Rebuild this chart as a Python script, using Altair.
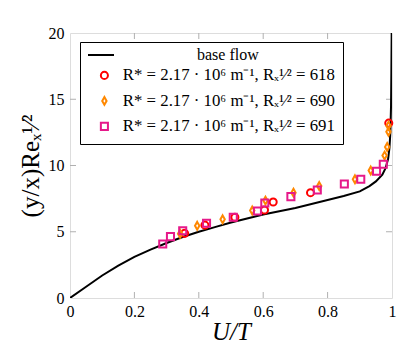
import altair as alt
import pandas as pd

# base flow profile (U/T, eta)
base_u = [0, 0.05, 0.1, 0.15, 0.2, 0.25, 0.3, 0.35, 0.4, 0.45, 0.5, 0.55, 0.6, 0.65,
          0.7, 0.75, 0.8, 0.85, 0.9, 0.93, 0.95, 0.97, 0.98, 0.988, 0.992, 0.995,
          0.997, 0.998, 0.999]
base_eta = [0, 0.85, 1.7, 2.45, 3.1, 3.65, 4.15, 4.6, 5.0, 5.35, 5.7, 6.0, 6.3, 6.55,
            6.8, 7.1, 7.4, 7.7, 8.05, 8.45, 8.8, 9.3, 9.8, 10.5, 11.3, 12.5,
            14.5, 17.0, 20.0]

circ_u = [0.356, 0.419, 0.512, 0.604, 0.631, 0.747, 0.990]
circ_eta = [4.88, 5.5, 6.09, 6.64, 7.24, 7.95, 13.2]

diam_u = [0.342, 0.395, 0.474, 0.566, 0.607, 0.694, 0.774, 0.885, 0.934, 0.977,
          0.985, 0.989, 0.989]
diam_eta = [4.85, 5.45, 5.94, 6.6, 7.35, 7.95, 8.45, 8.96, 9.62, 10.75,
            11.4, 12.55, 13.0]

sq_u = [0.288, 0.312, 0.35, 0.424, 0.507, 0.582, 0.605, 0.686, 0.768, 0.852,
        0.903, 0.952, 0.973]
sq_eta = [4.08, 4.63, 5.08, 5.64, 6.09, 6.57, 7.17, 7.65, 8.15, 8.6,
          8.96, 9.56, 10.1]

labels = [
    "R* = 2.17 · 10⁶ m⁻¹, Rₓ¹⁄² = 618",
    "R* = 2.17 · 10⁶ m⁻¹, Rₓ¹⁄² = 690",
    "R* = 2.17 · 10⁶ m⁻¹, Rₓ¹⁄² = 691",
]
colors = ["#ff0000", "#ff8800", "#e6198a"]
shapes = ["circle", "M0,-1.1L0.62,0L0,1.1L-0.62,0Z", "square"]

x_ticks = [0, 0.2, 0.4, 0.6, 0.8, 1]
y_ticks = [0, 5, 10, 15, 20]

W, H = 322, 265
FONT = "Liberation Serif"

base_df = pd.DataFrame({"U": base_u, "eta": base_eta, "i": range(len(base_u)),
                        "name": "base flow"})
pts = pd.concat([
    pd.DataFrame({"U": circ_u, "eta": circ_eta, "series": labels[0]}),
    pd.DataFrame({"U": diam_u, "eta": diam_eta, "series": labels[1]}),
    pd.DataFrame({"U": sq_u, "eta": sq_eta, "series": labels[2]}),
])

xscale = alt.Scale(domain=[0, 1], nice=False, zero=False)
yscale = alt.Scale(domain=[0, 20], nice=False, zero=False)

xaxis = alt.Axis(values=x_ticks, format="~g", title="U/T", grid=False, ticks=False,
                 tickSize=0, domain=False, labelFont=FONT, labelFontSize=16,
                 labelPadding=5, labelColor="black", titleFont=FONT,
                 titleFontSize=25, titleFontStyle="italic", titleFontWeight="normal",
                 titlePadding=0, titleColor="black", labelFlush=False)
yaxis = alt.Axis(values=y_ticks, format="~g", title="(y/x)Reₓ¹⁄²", grid=False,
                 ticks=False, tickSize=0, domain=False, labelFont=FONT,
                 labelFontSize=16, labelPadding=6, labelColor="black",
                 titleFont=FONT, titleFontSize=25, titleFontWeight="normal",
                 titlePadding=5, titleColor="black", labelFlush=False)

line = alt.Chart(base_df).mark_line(strokeWidth=2, clip=True).encode(
    x=alt.X("U:Q", scale=xscale, axis=xaxis),
    y=alt.Y("eta:Q", scale=yscale, axis=yaxis),
    order="i:Q",
    color=alt.Color("name:N", scale=alt.Scale(domain=["base flow"], range=["black"]),
                    legend=alt.Legend(title=None, orient="none", legendX=17,
                                      legendY=8, symbolType="stroke",
                                      symbolSize=676, symbolStrokeWidth=2,
                                      labelOffset=82, labelFont=FONT,
                                      labelFontSize=16, labelColor="black",
                                      padding=0)),
)

leg = alt.Legend(
    title="\u00a0", orient="none", legendX=10, legendY=9,
    strokeColor="black", padding=8, symbolOffset=8, labelOffset=10,
    labelFont=FONT, labelFontSize=16.8, labelColor="black", titleFont=FONT,
    titleFontSize=13, titleFontWeight="normal", titleColor="black",
    titlePadding=4, rowPadding=7.5, symbolStrokeWidth=2, symbolOpacity=1,
    symbolSize=50, labelLimit=400,
)

points = alt.Chart(pts).mark_point(filled=False, strokeWidth=2, size=50,
                                   opacity=1).encode(
    x=alt.X("U:Q", scale=xscale),
    y=alt.Y("eta:Q", scale=yscale),
    color=alt.Color("series:N", scale=alt.Scale(domain=labels, range=colors), legend=leg),
    shape=alt.Shape("series:N", scale=alt.Scale(domain=labels, range=shapes), legend=leg),
)

tick_color = "#b0b0b0"
xt = pd.DataFrame({"U": x_ticks[1:-1]})
yt = pd.DataFrame({"eta": y_ticks[1:-1]})
bt = alt.Chart(xt).mark_rule(color=tick_color, strokeWidth=1).encode(
    x=alt.X("U:Q", scale=xscale), y=alt.value(H), y2=alt.value(H - 6))
tt = alt.Chart(xt).mark_rule(color=tick_color, strokeWidth=1).encode(
    x=alt.X("U:Q", scale=xscale), y=alt.value(0), y2=alt.value(6))
lt = alt.Chart(yt).mark_rule(color=tick_color, strokeWidth=1).encode(
    y=alt.Y("eta:Q", scale=yscale), x=alt.value(0), x2=alt.value(6))
rt = alt.Chart(yt).mark_rule(color=tick_color, strokeWidth=1).encode(
    y=alt.Y("eta:Q", scale=yscale), x=alt.value(W - 6), x2=alt.value(W))

chart = alt.layer(bt, tt, lt, rt, line, points).resolve_scale(
    color="independent", shape="independent"
).properties(
    width=W, height=H,
    autosize=alt.AutoSizeParams(type="none"),
    padding={"left": 62, "top": 25, "right": 6, "bottom": 49},
).configure_view(stroke="#999999", strokeWidth=1.3).configure(background="white")

chart.save("out.html", embed_options={"renderer": "svg", "actions": False})
